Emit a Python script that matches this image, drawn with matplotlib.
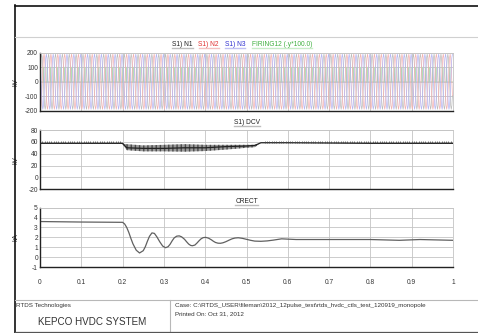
import numpy as np
import matplotlib
matplotlib.use('Agg')
import matplotlib.pyplot as plt
from matplotlib.lines import Line2D

plt.rcParams['font.family'] = ['Liberation Sans', 'DejaVu Sans']

# ---- data ----
# one 60 Hz cycle of the phase voltage (kV), 12 samples per cycle
PHASE_CYCLE = [0, 95, 165, 190, 165, 95, 0, -95, -165, -190, -165, -95]
N_CYCLES = 60
PHASE_SHIFT = 4  # samples = 120 deg
# firing pulse pattern over one cycle (0/1, scaled by 100 on the plot)
FIRING_CYCLE = [1, 0, 0, 0, 0, 0, 1, 0, 0, 0, 0, 0]

# DC voltage (kV): mean level and the ripple band during the disturbance
DCV_T = [0.0, 0.1, 0.2, 0.21, 0.25, 0.3, 0.35, 0.4, 0.45, 0.5, 0.52, 0.535, 0.6, 0.7, 0.8, 0.9, 1.0]
DCV_LEVEL = [57.5, 57.5, 57.5, 50, 49, 49, 50, 50, 52, 53, 54, 58.5, 58.5, 58, 57.5, 57.5, 57.5]
BAND_T = [0.2, 0.21, 0.25, 0.3, 0.35, 0.4, 0.45, 0.5, 0.52, 0.53]
BAND_LO = [56, 46, 44, 44, 43.5, 44.5, 47, 50, 51, 56]
BAND_HI = [57, 56, 54, 55, 56, 55, 55, 55, 55, 57]
DCV_SPIKE = 59.5

# rectifier current (kA)
CRECT_T = [0.0, 0.1, 0.2, 0.205, 0.21, 0.215, 0.22, 0.225, 0.233, 0.241, 0.25, 0.255,
           0.26, 0.265, 0.271, 0.277, 0.283, 0.29, 0.297, 0.304, 0.31, 0.315, 0.32,
           0.325, 0.331, 0.337, 0.343, 0.35, 0.355, 0.36, 0.365, 0.369, 0.375, 0.38,
           0.385, 0.39, 0.395, 0.401, 0.408, 0.415, 0.42, 0.425, 0.431, 0.437, 0.443,
           0.45, 0.458, 0.465, 0.472, 0.48, 0.49, 0.5, 0.51, 0.52, 0.535, 0.55, 0.565,
           0.585, 0.6, 0.62, 0.7, 0.8, 0.87, 0.92, 1.0]
CRECT = [3.6, 3.55, 3.52, 3.35, 3.0, 2.5, 1.9, 1.35, 0.7, 0.42, 0.65, 1.05,
         1.6, 2.1, 2.45, 2.4, 2.05, 1.55, 1.12, 0.95, 1.05, 1.3, 1.65,
         1.95, 2.12, 2.15, 2.05, 1.8, 1.55, 1.32, 1.18, 1.15, 1.22, 1.42,
         1.65, 1.85, 1.97, 2.0, 1.92, 1.75, 1.6, 1.48, 1.41, 1.4, 1.45,
         1.56, 1.72, 1.85, 1.93, 1.96, 1.9, 1.8, 1.7, 1.62, 1.6, 1.64, 1.72,
         1.85, 1.82, 1.78, 1.78, 1.78, 1.7, 1.78, 1.7]

X_TICKS = [0, 0.1, 0.2, 0.3, 0.4, 0.5, 0.6, 0.7, 0.8, 0.9, 1]
X_LABELS = ['0', '0.1', '0.2', '0.3', '0.4', '0.5', '0.6', '0.7', '0.8', '0.9', '1']

# ---- build series ----
cycle = np.array(PHASE_CYCLE, dtype=float)
n1 = np.tile(cycle, N_CYCLES)
n2 = np.tile(np.roll(cycle, PHASE_SHIFT), N_CYCLES)
n3 = np.tile(np.roll(cycle, 2 * PHASE_SHIFT), N_CYCLES)
t_ph = np.arange(len(n1)) / len(n1)
firing = np.tile(np.array(FIRING_CYCLE) * 100.0, N_CYCLES)
t_fi = np.arange(len(firing)) / len(firing)

fs = 4.8
grid_c = '#c4c4c4'

fig = plt.figure(figsize=(4.78, 3.33), dpi=100)
fig.patch.set_facecolor('white')

L, W = 40 / 478, 413 / 478
ax1 = fig.add_axes([L, 1 - 110.7 / 333, W, 58 / 333])
ax2 = fig.add_axes([L, 1 - 189.3 / 333, W, 59.3 / 333])
ax3 = fig.add_axes([L, 1 - 267 / 333, W, 59.3 / 333])


def style(ax, yticks, ylabel):
    ax.set_xlim(0, 1)
    ax.set_ylim(yticks[0], yticks[-1])
    ax.set_yticks(yticks)
    ax.set_yticklabels([str(v) for v in yticks], fontsize=fs, color='#333333')
    ax.set_xticks(X_TICKS)
    ax.grid(True, color=grid_c, linewidth=0.6)
    ax.set_axisbelow(True)
    ax.tick_params(length=0, pad=1.5)
    for s in ['top', 'right']:
        ax.spines[s].set_color(grid_c)
        ax.spines[s].set_linewidth(0.6)
    for s in ['left', 'bottom']:
        ax.spines[s].set_color('#222222')
        ax.spines[s].set_linewidth(1.0)
    ax.set_ylabel(ylabel, fontsize=fs, color='#333333', labelpad=2)


# panel 1: phase voltages + firing
ax1.plot(t_fi, firing, color='#b4e0b4', lw=0.5, drawstyle='steps-post')
ax1.plot(t_ph, n1, color='#bababa', lw=0.5)
ax1.plot(t_ph, n2, color='#f2b0b0', lw=0.5)
ax1.plot(t_ph, n3, color='#b4b4f2', lw=0.5)
style(ax1, [-200, -100, 0, 100, 200], 'kV')
ax1.set_xticklabels([])

# panel 2: DC voltage
ax2.fill_between(BAND_T, BAND_LO, BAND_HI, facecolor='#9a9a9a', edgecolor='#4a4a4a',
                 hatch='||||', linewidth=0)
ax2.plot(DCV_T, DCV_LEVEL, color='#222222', lw=0.9)
t_spk = np.arange(0, 1, 1 / 180)
t_spk = t_spk[(t_spk < 0.2) | (t_spk > 0.54)]
ax2.plot(t_spk, np.full_like(t_spk, DCV_SPIKE), '|', color='#444444', ms=2.0, mew=0.5)
style(ax2, [-20, 0, 20, 40, 60, 80], 'kV')
ax2.set_xticklabels([])

# panel 3: rectifier current
ax3.plot(CRECT_T, CRECT, color='#606060', lw=0.9)
style(ax3, [-1, 0, 1, 2, 3, 4, 5], 'kA')
ax3.set_xticklabels(X_LABELS, fontsize=fs, color='#333333')
ax3.tick_params(axis='x', pad=9)

for ax in (ax1, ax2, ax3):
    ax.yaxis.set_label_coords(-0.05, 0.5)

# panel titles (with the coloured underline bars)
titles1 = [('S1) N1', '#222222', '#bdbdbd'), ('S1) N2', '#e03030', '#f4c0c0'),
           ('S1) N3', '#3030d0', '#c0c0f4'), ('FIRING12 (.y*100.0)', '#40b040', '#c8ecc8')]
fig.canvas.draw()
rend = fig.canvas.get_renderer()
texts = []
x = 172
for s, c, u in titles1:
    tx = fig.text(x / 478, 1 - 44 / 333, s, fontsize=fs, color=c, va='center', ha='left')
    w = tx.get_window_extent(rend).width
    texts.append((tx, u))
    x += w + 6
for s, y in [('S1) DCV', 122), ('CRECT', 201)]:
    tx = fig.text(246.5 / 478, 1 - y / 333, s, fontsize=fs, color='#222222', va='center', ha='center')
    texts.append((tx, '#bdbdbd'))
for tx, u in texts:
    bb = tx.get_window_extent(rend)
    yy = (bb.y0 - 0.5) / fig.bbox.height
    fig.add_artist(Line2D([bb.x0 / fig.bbox.width, bb.x1 / fig.bbox.width], [yy, yy],
                          color=u, lw=1.0))

# page frame
def fline(x0, x1, y0, y1, c, lw):
    fig.add_artist(Line2D([x0 / 478, x1 / 478], [1 - y0 / 333, 1 - y1 / 333], color=c, lw=lw))

fline(15, 15, 5, 333, '#111111', 1.2)
fline(15, 478, 5.5, 5.5, '#111111', 1.2)
fline(15, 478, 37, 37, '#d0d0d0', 0.8)
fline(15, 478, 300, 300, '#b8b8b8', 0.8)
fline(170, 170, 300, 332, '#b8b8b8', 0.8)
fline(15, 478, 331.5, 331.5, '#555555', 0.9)

# footer
fig.text(15.5 / 478, 1 - 305 / 333, 'RTDS Technologies', fontsize=4.5, color='#333333', va='center')
fig.text(92 / 478, 1 - 322 / 333, 'KEPCO HVDC SYSTEM', fontsize=7.1, color='#333333',
         va='center', ha='center')
fig.text(175 / 478, 1 - 306 / 333,
         'Case: C:\\RTDS_USER\\fileman\\2012_12pulse_test\\rtds_hvdc_ctls_test_120919_monopole',
         fontsize=4.5, color='#333333', va='center')
fig.text(175 / 478, 1 - 313.5 / 333, 'Printed On: Oct 31, 2012', fontsize=4.5, color='#333333',
         va='center')

fig.savefig('out.png', dpi=100)
plt.close(fig)
